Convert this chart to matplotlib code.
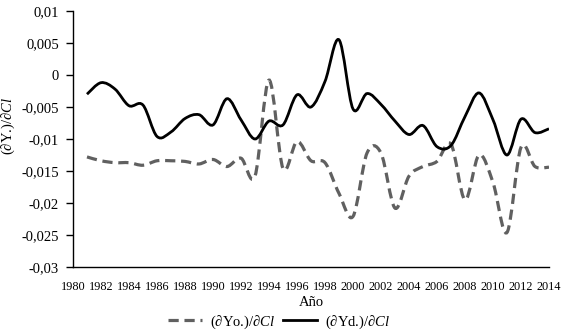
import numpy as np
import matplotlib
matplotlib.use("Agg")
import matplotlib.pyplot as plt
from matplotlib.path import Path
from matplotlib.patches import PathPatch
from matplotlib.lines import Line2D

plt.rcParams['font.family'] = ['Liberation Serif', 'DejaVu Serif']
plt.rcParams['mathtext.fontset'] = 'custom'
plt.rcParams['mathtext.rm'] = 'Liberation Serif'
plt.rcParams['mathtext.it'] = 'Liberation Serif:italic'

years = list(range(1981, 2015))
yo = [-0.0128, -0.0134, -0.0137, -0.0137, -0.0141, -0.0134, -0.0134, -0.0135, -0.0139, -0.0132,
      -0.0143, -0.0130, -0.0158, -0.0008, -0.0146, -0.0104, -0.0134, -0.0137, -0.0185, -0.0221,
      -0.0122, -0.0122, -0.0208, -0.0158, -0.0143, -0.0135, -0.0108, -0.0195, -0.0125, -0.0168,
      -0.0246, -0.0113, -0.0143, -0.0144]
yd = [-0.0030, -0.0012, -0.0022, -0.0048, -0.0047, -0.0096, -0.0089, -0.0068, -0.0062, -0.0078,
      -0.0037, -0.0070, -0.0100, -0.0072, -0.0078, -0.0031, -0.0050, -0.0010, 0.0055, -0.0053,
      -0.0029, -0.0046, -0.0072, -0.0093, -0.0079, -0.0112, -0.0110, -0.0065, -0.0028, -0.0070,
      -0.0125, -0.0069, -0.0090, -0.0084]
xticks = list(range(1980, 2015, 2))
yticks = [0.01, 0.005, 0, -0.005, -0.01, -0.015, -0.02, -0.025, -0.03]
ytick_labels = ['0,01', '0,005', '0', '-0,005', '-0,01', '-0,015', '-0,02', '-0,025', '-0,03']


def smooth_path(x, y):
    p = np.column_stack([x, y]).astype(float)
    n = len(p)
    verts = [p[0]]
    codes = [Path.MOVETO]
    for i in range(n - 1):
        p0 = p[i - 1] if i > 0 else p[i]
        p1 = p[i]
        p2 = p[i + 1]
        p3 = p[i + 2] if i + 2 < n else p[i + 1]
        c1 = p1 + (p2 - p0) / 6.0
        c2 = p2 - (p3 - p1) / 6.0
        verts += [c1, c2, p2]
        codes += [Path.CURVE4] * 3
    return Path(verts, codes)


fig = plt.figure(figsize=(5.66, 3.33), dpi=100)
ax = fig.add_axes([73 / 566, 1 - 267 / 333, (549 - 73) / 566, (267 - 11) / 333])

gray = '#606060'
dash = (0, (3.2, 1.8))
ax.add_patch(PathPatch(smooth_path(years, yo), edgecolor=gray, facecolor='none', lw=2.3,
                       linestyle=dash, capstyle='butt'))
ax.add_patch(PathPatch(smooth_path(years, yd), edgecolor='black', facecolor='none', lw=2.0))

ax.set_xlim(1980, 2014)
ax.set_ylim(-0.03, 0.01)
ax.set_yticks(yticks)
ax.set_yticklabels(ytick_labels, fontsize=10.5)
ax.set_xticks(xticks)
ax.set_xticklabels([str(t) for t in xticks], fontsize=8.8)
ax.tick_params(axis='x', length=0, pad=10)
ax.tick_params(axis='y', direction='out', length=5, width=1, pad=5)
for s in ['top', 'right']:
    ax.spines[s].set_visible(False)
for s in ['left', 'bottom']:
    ax.spines[s].set_linewidth(1.0)

ax.set_xlabel('Año', fontsize=10.5, labelpad=2)
ax.set_ylabel(r'(∂Y.)/∂$\mathit{Cl}$', fontsize=10.5)
ax.yaxis.set_label_coords(-0.118, 0.55)

handles = [Line2D([], [], color=gray, lw=2.3, linestyle=dash),
           Line2D([], [], color='black', lw=2.0)]
labels = [r'(∂Yo.)/∂$\mathit{Cl}$', r'(∂Yd.)/∂$\mathit{Cl}$']
fig.legend(handles, labels, loc='center', bbox_to_anchor=(279 / 566, 1 - 322 / 333), ncol=2,
           frameon=False, fontsize=10.5, handlelength=2.3, columnspacing=0.55,
           handletextpad=0.55, borderpad=0.0)

fig.savefig('out.png', dpi=100)
